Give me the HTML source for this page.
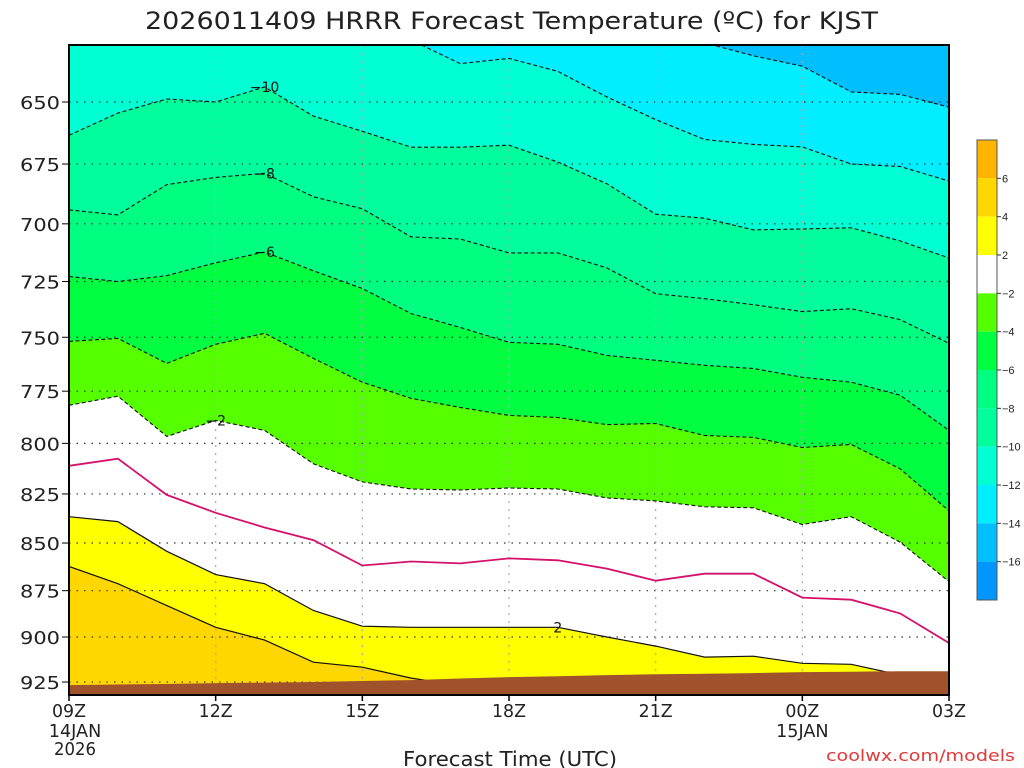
<!DOCTYPE html>
<html><head><meta charset="utf-8"><style>
body{margin:0;background:#fff;}
svg{display:block;font-family:"DejaVu Sans","Liberation Sans",sans-serif;}
</style></head><body>
<svg id="chart" width="1024" height="768" viewBox="0 0 1024 768">
<defs><clipPath id="plotclip"><rect x="69" y="45" width="880" height="650"/></clipPath></defs>
<text x="145" y="29" font-size="24" fill="#222" textLength="733" lengthAdjust="spacingAndGlyphs">2026011409 HRRR Forecast Temperature (ºC) for KJST</text>
<g id="plot" clip-path="url(#plotclip)"></g>
<g id="axes"></g>
<g id="cbar"></g>
<text x="403" y="766" font-size="20" fill="#222" textLength="214" lengthAdjust="spacingAndGlyphs">Forecast Time (UTC)</text>
<text x="826" y="761" font-size="16" fill="#e03a3a" textLength="189" lengthAdjust="spacingAndGlyphs">coolwx.com/models</text>
</svg>
<script>
// hours since 09Z 14JAN
const hours = [0,1,2,3,4,5,6,7,8,9,10,11,12,13,14,15,16,17,18];
const isoLevels = [-14,-12,-10,-8,-6,-4,-2,0,2,4];
// pressure (hPa) of each isotherm at each forecast hour
const isoM14 = [600,600,600,600,600,600,600,600,600,600,612,618,623,627,632,636,646,647,652];
const isoM12 = [610,610,612,612,615,618,622,626,635,633,638,648,657,665,667,668,675,676,682];
const isoM10 = [663.3,654.4,648.8,650,644.1,655.6,661.7,668.1,668.1,667.3,674.2,683.1,695.9,697.6,702.6,702.2,701.7,707.3,714.7];
const isoM8 = [694.1,696.2,683.5,680.5,678.8,688.6,693.6,705.6,706.5,712.5,712.5,719,730.4,732.6,735.3,738.4,737.1,742,752.8];
const isoM6 = [722.8,725,722.4,716.8,712.1,720.3,728.1,739.3,745.5,752.3,753.2,758.3,760.6,762.9,764.4,768.5,770.8,776.9,793.7];
const isoM4 = [751.9,750.5,762,753.2,748.2,759.7,770.8,778.4,782.7,786.5,787.5,790.9,790.4,796.2,797.1,802,800.5,812.5,833.5];
const isoM2 = [781.7,777.4,796.6,788.9,793.7,810,819,822.5,823,822,822.5,827,828.5,831.5,832,840.5,836.5,849.5,870.2];
const iso0 = [811,807.5,825.5,834.5,842,848.5,861.7,859.6,860.6,858,859,863.3,869.7,866,866,878.7,879.8,887.2,903.3];
const isoP2 = [836.5,839,854.3,866.5,871.3,885.6,894.1,894.7,894.7,894.7,894.7,900,905,911.1,910.6,914.5,915.1,921,929.5];
const isoP4 = [862.2,871.3,883,894.7,901.7,913.9,916.7,922.8,927,935,935,935,935,935,935,935,935,935,935];
const groundP = [926.7,926.4,926.1,925.6,925.3,925,924.4,923.9,923,922.2,921.7,921.1,920.6,920.3,920,919.4,919.2,918.9,918.9];
const pTicks = [650,675,700,725,750,775,800,825,850,875,900,925];
const xTickHours = [0,3,6,9,12,15,18];
const xTickLabels = ["09Z","12Z","15Z","18Z","21Z","00Z","03Z"];
const xDateLabels = {0:["14JAN","2026"],15:["15JAN"]};
const cbarColors = ["#ffb400","#ffd700","#ffff00","#ffffff","#55ff00","#00ff40","#00ff80","#00ff9c","#00ffd2","#00eeff","#00bfff","#0096ff"];
const cbarLabels = ["6","4","2","\u22122","\u22124","\u22126","\u22128","\u221210","\u221212","\u221214","\u221216"];

const NS="http://www.w3.org/2000/svg";
const X0=69,X1=949,Y0=45,Y1=695;
function xs(h){return X0+h*(X1-X0)/18;}
function ys(p){return 102+1644*Math.log(p/650);}
function mk(tag,attrs,parent){const e=document.createElementNS(NS,tag);for(const k in attrs)e.setAttribute(k,attrs[k]);parent.appendChild(e);return e;}
const plot=document.getElementById('plot'),axes=document.getElementById('axes'),cbar=document.getElementById('cbar');

const isoSeries=[isoM14,isoM12,isoM10,isoM8,isoM6,isoM4,isoM2,iso0,isoP2,isoP4];
const fillBelow=["#00eeff","#00ffd2","#00ff9c","#00ff80","#00ff40","#55ff00","#ffffff","#ffffff","#ffff00","#ffd700"];
const bg=mk('rect',{x:X0,y:Y0,width:X1-X0,height:Y1-Y0,fill:"#00bfff"},plot);


function linePts(arr){return hours.map((h,i)=>xs(h).toFixed(1)+","+ys(arr[i]).toFixed(1));}
isoSeries.forEach((arr,k)=>{
  const pts=linePts(arr);
  const poly=mk('polygon',{points:pts.join(" ")+" "+X1+","+(Y1+20)+" "+X0+","+(Y1+20),fill:fillBelow[k]},plot);
  
  
});
// grid
pTicks.forEach(p=>{
  const g=mk('line',{x1:X0,x2:X1,y1:ys(p),y2:ys(p),stroke:"#333","stroke-width":1.2,"stroke-dasharray":"1.5 6"},plot);
  
  
});
xTickHours.forEach(h=>{
  if(h===0||h===18)return;
  const g=mk('line',{x1:xs(h),x2:xs(h),y1:Y0,y2:Y1,stroke:"#aaa","stroke-width":1.2,"stroke-dasharray":"2 6"},plot);
  
  
});
// contour lines
isoSeries.forEach((arr,k)=>{
  const lv=isoLevels[k];
  const attrs={points:linePts(arr).join(" "),fill:"none"};
  if(lv<0){attrs.stroke="#111";attrs["stroke-width"]=1.1;attrs["stroke-dasharray"]="4 2.5";}
  else if(lv===0){attrs.stroke="#d4106c";attrs["stroke-width"]=1.8;}
  else{attrs.stroke="#111";attrs["stroke-width"]=1.2;}
  const l=mk('polyline',attrs,plot);
  
  
});
// contour labels
const labelSpecs=[[4,isoM10,"\u221210"],[4,isoM8,"\u22128"],[4,isoM6,"\u22126"],[3,isoM2,"\u22122"],[10,isoP2,"2"]];
labelSpecs.forEach(([h,arr,t])=>{
  const tx=mk('text',{x:xs(h),y:ys(arr[h])+5,"font-size":14,"text-anchor":"middle",fill:"#111"},plot);
  tx.textContent=t;
  
  
});
// ground
const gp=hours.map((h,i)=>xs(h).toFixed(1)+","+ys(groundP[i]).toFixed(1));
const ground=mk('polygon',{points:gp.join(" ")+" "+X1+","+Y1+" "+X0+","+Y1,fill:"#a0522d"},plot);


// frame
const fr=mk('rect',{x:X0,y:Y0,width:X1-X0,height:Y1-Y0,fill:"none",stroke:"#000","stroke-width":2},axes);


pTicks.forEach(p=>{
  const t=mk('line',{x1:X0-7,x2:X0,y1:ys(p),y2:ys(p),stroke:"#000","stroke-width":1},axes);
  
  
  const tx=mk('text',{x:20,y:ys(p)+7,"font-size":18,fill:"#222",textLength:40,lengthAdjust:"spacingAndGlyphs"},axes);
  tx.textContent=p;
  
  
});
xTickHours.forEach((h,i)=>{
  const t=mk('line',{x1:xs(h),x2:xs(h),y1:Y1,y2:Y1+6,stroke:"#000","stroke-width":1.5},axes);
  
  
  const tx=mk('text',{x:xs(h)-17,y:717,"font-size":18,fill:"#222",textLength:34,lengthAdjust:"spacingAndGlyphs"},axes);
  tx.textContent=xTickLabels[i];
  
  
  (xDateLabels[h]||[]).forEach((d,j)=>{
    const w=d.length*10.5;
    const dx=mk('text',{x:xs(h)+(h===0?6:0)-w/2,y:737+j*18,"font-size":18,fill:"#222",textLength:w,lengthAdjust:"spacingAndGlyphs"},axes);
    dx.textContent=d;
    
    
  });
});
// colorbar
const CB0=140,CBH=460/cbarColors.length;
cbarColors.forEach((c,i)=>{
  const r=mk('rect',{x:977,y:CB0+i*CBH,width:20,height:CBH,fill:c},cbar);
  
  
});
const cbf=mk('rect',{x:977,y:CB0,width:20,height:460,fill:"none",stroke:"#555","stroke-width":1},cbar);


cbarLabels.forEach((t,i)=>{
  const yy=CB0+(i+1)*CBH;
  const tk=mk('line',{x1:997,x2:1001,y1:yy,y2:yy,stroke:"#333","stroke-width":1},cbar);
  
  
  const tx=mk('text',{x:1002,y:yy+4,"font-size":11,fill:"#222","font-family":"Liberation Sans, sans-serif"},cbar);
  tx.textContent=t;
  
  
});
</script>
</body></html>
